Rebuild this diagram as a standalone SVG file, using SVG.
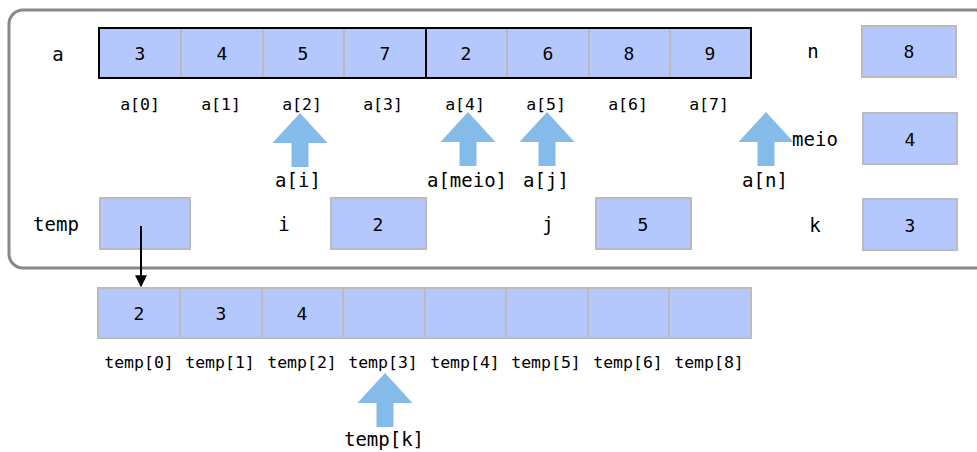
<svg xmlns="http://www.w3.org/2000/svg" width="977" height="452" viewBox="0 0 977 452">
<defs>
<style>
text{font-family:"DejaVu Sans Mono","Liberation Mono",monospace;fill:#000;text-anchor:middle;dominant-baseline:central}
.v{font-size:18px}
.ix{font-size:16.5px}
.lb{font-size:19px}
.cell{fill:#b5c8fd;stroke:#bbbbbb;stroke-width:2}
.grp{fill:none;stroke:#000;stroke-width:2}
.ptr{fill:#85bbe8}
</style>
<marker id="ah" viewBox="0 0 10 10" refX="9" refY="5" markerWidth="6" markerHeight="6" orient="auto"><path d="M0,0 L10,5 L0,10 z" fill="#000"/></marker>
<path id="up" d="M0,0 L27.5,30 L8.5,30 L8.5,54 L-8.5,54 L-8.5,30 L-27.5,30 z"/>
</defs>
<rect x="9" y="10" width="980" height="258" rx="14" ry="14" fill="#fff" stroke="#888" stroke-width="3"/>

<g id="array-a">
<text class="lb" x="58" y="54">a</text>
<rect class="cell" x="99" y="28" width="82" height="50"/>
<rect class="cell" x="181" y="28" width="82" height="50"/>
<rect class="cell" x="263" y="28" width="81" height="50"/>
<rect class="cell" x="344" y="28" width="82" height="50"/>
<rect class="cell" x="426" y="28" width="81" height="50"/>
<rect class="cell" x="507" y="28" width="82" height="50"/>
<rect class="cell" x="589" y="28" width="81" height="50"/>
<rect class="cell" x="670" y="28" width="81" height="50"/>
<rect class="grp" x="99" y="28" width="327" height="50"/>
<rect class="grp" x="426" y="28" width="325" height="50"/>
<text class="v" x="140" y="53">3</text>
<text class="v" x="222" y="53">4</text>
<text class="v" x="303" y="53">5</text>
<text class="v" x="385" y="53">7</text>
<text class="v" x="466" y="53">2</text>
<text class="v" x="548" y="53">6</text>
<text class="v" x="629" y="53">8</text>
<text class="v" x="710" y="53">9</text>
<text class="ix" x="140" y="104">a[0]</text>
<text class="ix" x="221" y="104">a[1]</text>
<text class="ix" x="302" y="104">a[2]</text>
<text class="ix" x="383" y="104">a[3]</text>
<text class="ix" x="465" y="104">a[4]</text>
<text class="ix" x="546" y="104">a[5]</text>
<text class="ix" x="628" y="104">a[6]</text>
<text class="ix" x="709" y="104">a[7]</text>
</g>

<g id="var-n">
<text class="lb" x="813" y="51">n</text>
<rect class="cell" x="862" y="26" width="94" height="51"/>
<text class="v" x="909" y="51">8</text>
</g>
<g id="var-meio">
<text class="lb" x="815" y="139">meio</text>
<rect class="cell" x="863" y="113" width="94" height="51"/>
<text class="v" x="910" y="139">4</text>
</g>
<g id="var-k">
<text class="lb" x="815" y="225">k</text>
<rect class="cell" x="863" y="199" width="94" height="51"/>
<text class="v" x="910" y="225">3</text>
</g>
<g id="var-temp">
<text class="lb" x="56" y="224">temp</text>
<rect class="cell" x="100" y="198" width="90" height="51"/>
</g>
<g id="var-i">
<text class="lb" x="284" y="224">i</text>
<rect class="cell" x="331" y="198" width="95" height="51"/>
<text class="v" x="378" y="224">2</text>
</g>
<g id="var-j">
<text class="lb" x="548" y="224">j</text>
<rect class="cell" x="596" y="198" width="95" height="51"/>
<text class="v" x="643" y="224">5</text>
</g>

<g id="ptr-ai">
<use href="#up" class="ptr" x="300" y="113"/>
<text class="lb" x="298" y="180">a[i]</text>
</g>
<g id="ptr-ameio">
<use href="#up" class="ptr" x="468" y="112"/>
<text class="lb" x="467" y="180">a[meio]</text>
</g>
<g id="ptr-aj">
<use href="#up" class="ptr" x="547" y="112"/>
<text class="lb" x="546" y="180">a[j]</text>
</g>
<g id="ptr-an">
<use href="#up" class="ptr" x="766" y="112"/>
<text class="lb" x="765" y="180">a[n]</text>
</g>

<g id="array-temp">
<rect class="cell" x="98" y="288" width="82" height="50"/>
<rect class="cell" x="180" y="288" width="82" height="50"/>
<rect class="cell" x="262" y="288" width="81" height="50"/>
<rect class="cell" x="343" y="288" width="82" height="50"/>
<rect class="cell" x="425" y="288" width="81" height="50"/>
<rect class="cell" x="506" y="288" width="82" height="50"/>
<rect class="cell" x="588" y="288" width="81" height="50"/>
<rect class="cell" x="669" y="288" width="82" height="50"/>
<text class="v" x="139" y="313">2</text>
<text class="v" x="221" y="313">3</text>
<text class="v" x="302" y="313">4</text>
<text class="ix" x="139" y="362">temp[0]</text>
<text class="ix" x="220" y="362">temp[1]</text>
<text class="ix" x="302" y="362">temp[2]</text>
<text class="ix" x="383" y="362">temp[3]</text>
<text class="ix" x="465" y="362">temp[4]</text>
<text class="ix" x="546" y="362">temp[5]</text>
<text class="ix" x="628" y="362">temp[6]</text>
<text class="ix" x="709" y="362">temp[8]</text>
</g>

<g id="ptr-tempk">
<use href="#up" class="ptr" x="385" y="373"/>
<text class="lb" x="384" y="439">temp[k]</text>
</g>

<g id="connectors">
<line x1="141" y1="226" x2="141" y2="286" stroke="#000" stroke-width="2" marker-end="url(#ah)"/>
</g>
</svg>
